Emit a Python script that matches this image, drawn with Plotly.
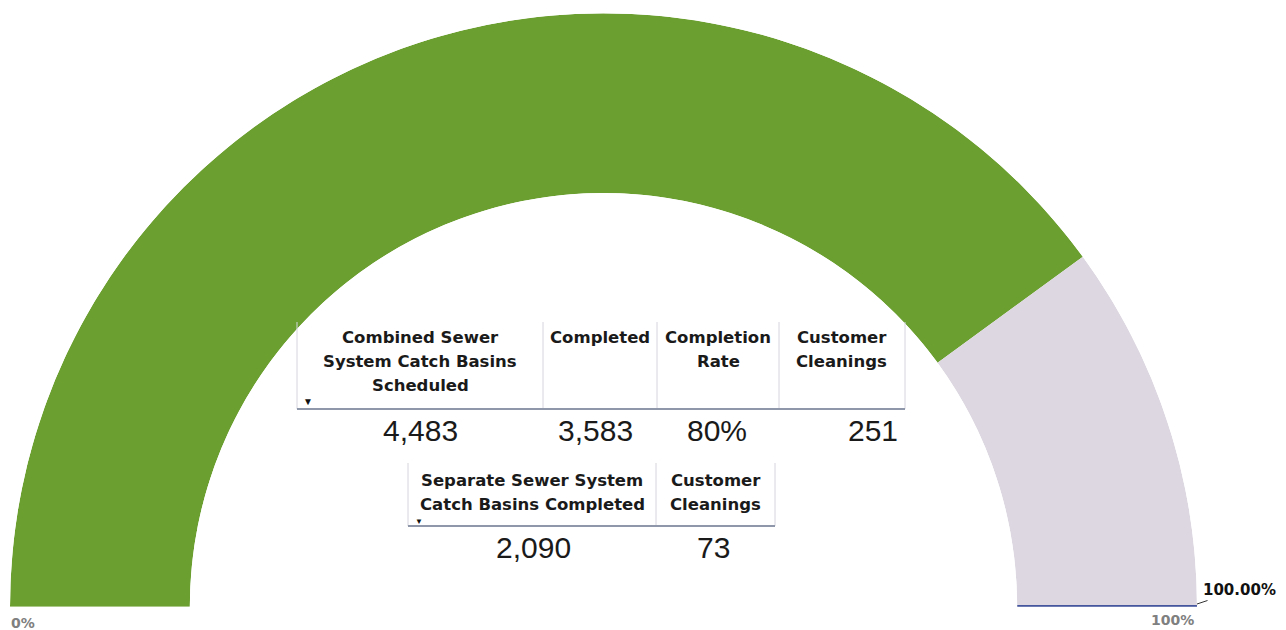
import plotly.graph_objects as go

# ---------------- data ----------------
gauge_labels = ["Completed", "Remaining"]
scheduled_total = 4483
completed_total = 3583
gauge_min_label = "0%"
gauge_max_label = "100%"
target_label = "100.00%"
target_pct = 100

combined_headers = ["Combined Sewer<br>System Catch Basins<br>Scheduled", "Completed",
                    "Completion<br>Rate", "Customer<br>Cleanings"]
combined_values = ["4,483", "3,583", "80%", "251"]

separate_headers = ["Separate Sewer System<br>Catch Basins Completed", "Customer<br>Cleanings"]
separate_values = ["2,090", "73"]

# ---------------- layout helpers ----------------
W, H = 1286, 630
GREEN = "#6b9f30"
GREY = "#dcd7e0"
BLUE = "#45569e"


def px(x):
    return x / W


def py(y):
    return (H - y) / H


pct_done = completed_total / scheduled_total * 100
span = 180.0
done_deg = pct_done / 100 * span
rest_deg = span - done_deg

fig = go.Figure()
fig.add_trace(go.Barpolar(
    r=[1, 1],
    theta=[done_deg / 2, done_deg + rest_deg / 2],
    width=[done_deg, rest_deg],
    marker=dict(color=[GREEN, GREY], line=dict(width=0)),
    text=gauge_labels,
    hoverinfo="text",
    showlegend=False,
))
# target line at 100%
fig.add_trace(go.Scatterpolar(
    r=[0, 1], theta=[target_pct / 100 * span] * 2, mode="lines",
    line=dict(color=BLUE, width=3.5), showlegend=False, hoverinfo="skip",
))

fig.update_layout(
    width=W, height=H, autosize=False,
    margin=dict(l=0, r=0, t=0, b=0),
    paper_bgcolor="white", plot_bgcolor="white",
    polar=dict(
        domain=dict(x=[px(10), px(1197)], y=[py(607), py(13)]),
        sector=[0, 180],
        hole=0.697,
        bgcolor="rgba(0,0,0,0)",
        bargap=0,
        radialaxis=dict(range=[0, 1], visible=False, showgrid=False, showline=False),
        angularaxis=dict(rotation=180, direction="clockwise", visible=False,
                         showgrid=False, showline=False, showticklabels=False, ticks=""),
    ),
)

ann = []
shapes = []
HDR_FONT = dict(family="DejaVu Sans", size=16.5, color="#1a1a1a")
VAL_FONT = dict(family="Liberation Sans", size=30, color="#1a1a1a")
LINE_STEP = 24


def header(text, cx, y_first):
    for k, line in enumerate(text.split("<br>")):
        ann.append(dict(x=px(cx), y=py(y_first + k * LINE_STEP), xref="paper", yref="paper",
                        text="<b>%s</b>" % line, showarrow=False, xanchor="center",
                        yanchor="middle", font=HDR_FONT))


# ---- table 1 ----
t1_cols = [297, 543, 657, 779, 905]
t1_top, t1_line = 322, 409
for i, h in enumerate(combined_headers):
    header(h, (t1_cols[i] + t1_cols[i + 1]) / 2, 337)
val_x1 = [420, 595, 717, 873]
for v, x in zip(combined_values, val_x1):
    ann.append(dict(x=px(x), y=py(430), xref="paper", yref="paper", text=v, showarrow=False,
                    xanchor="center", yanchor="middle", font=VAL_FONT))
for x in t1_cols:
    shapes.append(dict(type="line", xref="paper", yref="paper", x0=px(x), x1=px(x),
                       y0=py(t1_top), y1=py(t1_line), line=dict(color="#d6d6de", width=1)))
shapes.append(dict(type="line", xref="paper", yref="paper", x0=px(t1_cols[0]), x1=px(t1_cols[-1]),
                   y0=py(t1_line), y1=py(t1_line), line=dict(color="#8f97aa", width=2)))
ann.append(dict(x=px(308), y=py(401), xref="paper", yref="paper", text="▼", showarrow=False,
                font=dict(size=10, color="#111"), xanchor="center", yanchor="middle"))

# ---- table 2 ----
t2_cols = [408, 656, 775]
t2_top, t2_line = 463, 526
for i, h in enumerate(separate_headers):
    header(h, (t2_cols[i] + t2_cols[i + 1]) / 2, 480)
val_x2 = [533, 713]
for v, x in zip(separate_values, val_x2):
    ann.append(dict(x=px(x), y=py(547), xref="paper", yref="paper", text=v, showarrow=False,
                    xanchor="center", yanchor="middle", font=VAL_FONT))
for x in t2_cols:
    shapes.append(dict(type="line", xref="paper", yref="paper", x0=px(x), x1=px(x),
                       y0=py(t2_top), y1=py(t2_line), line=dict(color="#d6d6de", width=1)))
shapes.append(dict(type="line", xref="paper", yref="paper", x0=px(t2_cols[0]), x1=px(t2_cols[-1]),
                   y0=py(t2_line), y1=py(t2_line), line=dict(color="#8f97aa", width=2)))
ann.append(dict(x=px(419), y=py(520), xref="paper", yref="paper", text="▼", showarrow=False,
                font=dict(size=8, color="#111"), xanchor="center", yanchor="middle"))

# ---- gauge labels ----
LBL_FONT = dict(family="DejaVu Sans", size=14, color="#808080")
ann.append(dict(x=px(9), y=py(623), xref="paper", yref="paper", text="<b>%s</b>" % gauge_min_label,
                showarrow=False, xanchor="left", yanchor="middle", font=LBL_FONT))
ann.append(dict(x=px(1196), y=py(620), xref="paper", yref="paper", text="<b>%s</b>" % gauge_max_label,
                showarrow=False, xanchor="right", yanchor="middle", font=LBL_FONT))
ann.append(dict(x=px(1197), y=py(604), xref="paper", yref="paper", text="<b>%s</b>" % target_label,
                showarrow=True, arrowhead=0, arrowwidth=1, arrowcolor="#333", ax=42, ay=-14,
                font=dict(family="DejaVu Sans", size=15, color="#111")))

fig.update_layout(annotations=ann, shapes=shapes)
fig.write_html("out.html", config={"displayModeBar": False},
               post_script="document.body.style.margin='0';")
